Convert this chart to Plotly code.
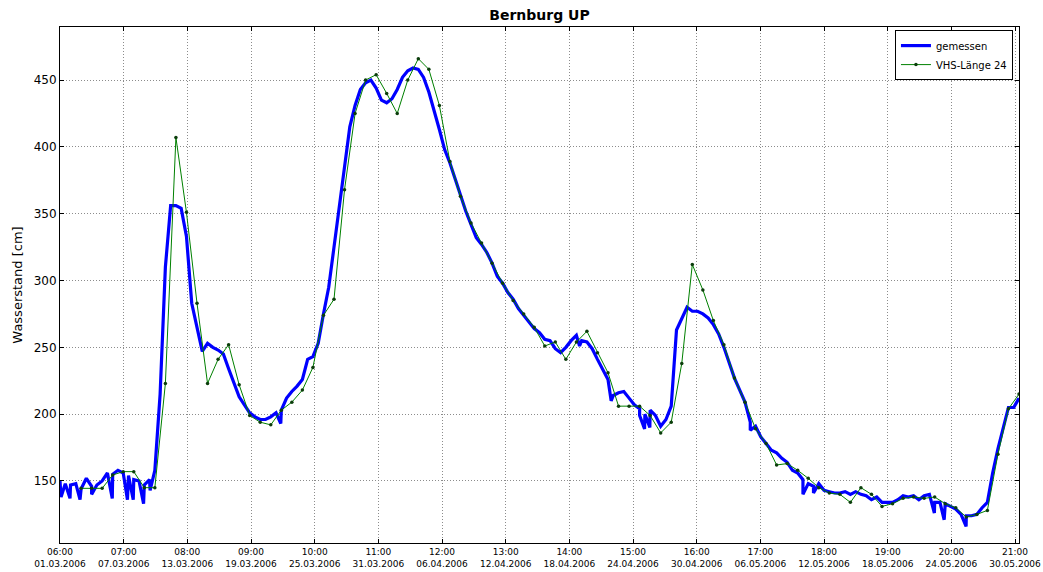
import pandas as pd
import plotly.graph_objects as go

# Time origin of both series (day offsets are counted from here)
START = pd.Timestamp("2006-03-01 06:00")

# Measured water level, half-day steps from day 0 to day 91 [cm]
gemessen_cm = [
    150, 148, 147, 148, 144, 152, 146, 147, 150, 156,   # d0 - d4.5
    155, 158, 156, 154, 151, 150, 147, 151, 158, 215,   # d5 - d9.5
    310, 356, 356, 354, 333, 283, 265, 247, 253, 250,   # d10 - d14.5
    248, 245, 234, 223, 213, 207, 201, 198, 196, 196,   # d15 - d19.5
    198, 201, 203, 212, 217, 221, 226, 241, 243, 253,   # d20 - d24.5
    275, 295, 325, 355, 383, 415, 431, 443, 448, 450,   # d25 - d29.5
    444, 435, 433, 436, 443, 452, 457, 459, 458, 452,   # d30 - d34.5
    441, 428, 413, 398, 388, 376, 363, 352, 342, 332,   # d35 - d39.5
    327, 321, 313, 303, 298, 291, 286, 279, 274, 269,   # d40 - d44.5
    264, 261, 256, 255, 249, 246, 250, 255, 259, 255,   # d45 - d49.5
    254, 249, 241, 234, 226, 214, 216, 217, 212, 207,   # d50 - d54.5
    204, 200, 203, 199, 191, 196, 206, 263, 272, 280,   # d55 - d59.5
    277, 277, 275, 272, 267, 260, 250, 239, 227, 218,   # d60 - d64.5
    209, 194, 191, 183, 178, 173, 171, 167, 164, 158,   # d65 - d69.5
    156, 151, 148, 146, 148, 143, 142, 141, 141, 142,   # d70 - d74.5
    140, 142, 140, 139, 136, 138, 134, 134, 134, 136,   # d75 - d79.5
    139, 138, 139, 136, 139, 140, 134, 134, 133, 131,   # d80 - d84.5
    129, 125, 124, 124, 125, 130, 134, 156, 174, 189,   # d85 - d89.5
    205, 205, 212,                                      # d90 - d91
]
gemessen_step_days = 0.5

# Short drops in the measured record: (day offset, level in cm)
gemessen_dips = [
    (0.10, 138), (0.95, 137), (1.90, 136), (3.00, 140), (4.96, 137),
    (6.40, 136), (6.95, 136), (7.93, 133), (8.55, 143), (20.95, 193),
    (49.30, 251), (52.30, 210), (55.00, 199), (55.47, 189), (55.97, 190),
    (65.50, 188), (70.50, 140), (71.50, 141), (82.97, 126), (83.90, 121),
    (85.98, 116),
]

# Daily forecast "VHS-Länge 24", starting at day 2 [cm]
vhs_first_day = 2
vhs_cm = [
    144.5, 144.5, 144.5, 154.5, 157, 157, 145, 145,          # d2 - d9
    223, 407, 351, 283, 223, 241, 252, 222, 199, 194,        # d10 - d19
    192, 203, 209, 218, 235, 274, 286, 368, 425, 450,        # d20 - d29
    454, 440, 425, 450, 466, 458, 431, 389, 363, 343,        # d30 - d39
    328, 313, 298, 285, 275, 265, 251, 254, 241, 254,        # d40 - d49
    262, 246, 231, 206, 206, 206, 199, 186, 194, 238,        # d50 - d59
    312, 293, 270, 252, 227, 209, 189, 178, 162, 163,        # d60 - d69
    158, 152, 145, 141, 140, 134, 145, 140, 131, 133,        # d70 - d79
    137, 138, 137, 138, 133, 130, 123, 125, 128, 170,        # d80 - d89
    204, 215,                                                # d90 - d91
]

# Date axis tick labels (time on first line, date on second)
tick_labels = [
    "06:00 01.03.2006", "07:00 07.03.2006", "08:00 13.03.2006", "09:00 19.03.2006",
    "10:00 25.03.2006", "11:00 31.03.2006", "12:00 06.04.2006", "13:00 12.04.2006",
    "14:00 18.04.2006", "15:00 24.04.2006", "16:00 30.04.2006", "17:00 06.05.2006",
    "18:00 12.05.2006", "19:00 18.05.2006", "20:00 24.05.2006", "21:00 30.05.2006",
]
y_ticks = [150, 200, 250, 300, 350, 400, 450]

# ---- assemble series -------------------------------------------------------
points = [(i * gemessen_step_days, v) for i, v in enumerate(gemessen_cm)]
points += gemessen_dips
points.sort(key=lambda p: p[0])
g_x = [START + pd.Timedelta(days=d) for d, _ in points]
g_y = [v for _, v in points]

v_x = [START + pd.Timedelta(days=vhs_first_day + i) for i in range(len(vhs_cm))]

tick_vals = [pd.to_datetime(t, format="%H:%M %d.%m.%Y") for t in tick_labels]
tick_text = [t.replace(" ", "<br>") for t in tick_labels]

FONT = "DejaVu Sans"

fig = go.Figure()
fig.add_trace(go.Scatter(
    x=g_x, y=g_y, mode="lines", name="gemessen",
    line=dict(color="#0000ff", width=3.2),
))
fig.add_trace(go.Scatter(
    x=v_x, y=vhs_cm, mode="lines+markers", name="VHS-Länge 24",
    line=dict(color="#008000", width=1),
    marker=dict(size=3.5, color="#0b3d0b"),
))

axis_common = dict(
    showline=True, mirror="ticks", linecolor="black", linewidth=1,
    showgrid=True, gridcolor="#8c8c8c", griddash="1px,2px", gridwidth=1,
    ticks="inside", ticklen=4, tickcolor="black", zeroline=False,
    automargin=False,
)

fig.update_xaxes(
    type="date",
    range=[START, START + pd.Timedelta(days=91)],
    tickvals=tick_vals, ticktext=tick_text,
    tickfont=dict(family=FONT, size=9, color="black"),
    **axis_common,
)
fig.update_yaxes(
    range=[103.6, 489.7],
    tickvals=y_ticks,
    tickfont=dict(family=FONT, size=12, color="black"),
    title=dict(text="Wasserstand [cm]", font=dict(family=FONT, size=13, color="black"), standoff=8),
    **axis_common,
)

fig.update_layout(
    width=1043, height=572,
    margin=dict(l=60, r=24, t=27, b=29),
    paper_bgcolor="white", plot_bgcolor="white",
    font=dict(family=FONT, color="black"),
    title=dict(
        text="<b>Bernburg UP</b>", x=0.5, xref="paper", xanchor="center",
        y=1 - 15 / 572, yref="container", yanchor="middle",
        font=dict(family=FONT, size=14, color="black"),
    ),
    legend=dict(
        x=0.9937, y=0.994, xanchor="right", yanchor="top",
        bgcolor="white", bordercolor="black", borderwidth=1,
        font=dict(family=FONT, size=10, color="black"),
        itemwidth=30, tracegroupgap=0,
    ),
    showlegend=True,
)

fig.write_html("out.html")
